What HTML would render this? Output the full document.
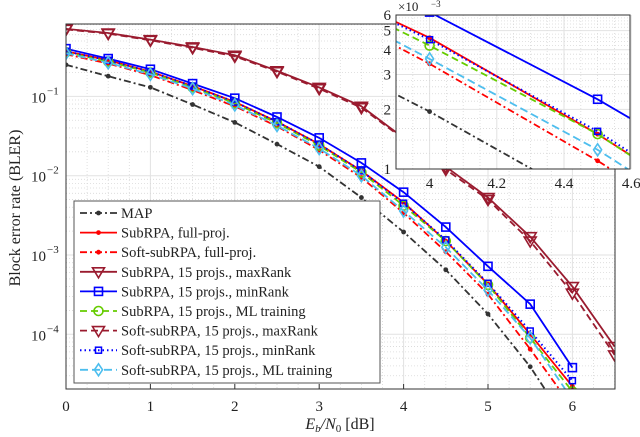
<!DOCTYPE html>
<html><head><meta charset="utf-8"><style>
html,body{margin:0;padding:0;background:#fff;width:640px;height:437px;overflow:hidden}
svg{display:block;overflow:hidden}
svg text{font-family:"Liberation Serif",serif;fill:#222}
</style></head><body>
<svg id="chart" width="640" height="437" viewBox="0 0 640 437" xmlns="http://www.w3.org/2000/svg"></svg>
<script>
const snr = [0,0.5,1,1.5,2,2.5,3,3.5,4,4.5,5,5.5,6,6.5];
const xTicks = [0,1,2,3,4,5,6];
const yTickExps = [-1,-2,-3,-4];
const insetXTicks = [4,4.2,4.4,4.6];
const insetYTicks = [1,2,3,4,5,6];
const mapVals = [0.25,0.18,0.13,0.079,0.047,0.025,0.013,0.0053,0.00195,0.00065,0.00018,0.000039,0.000006];
const subFullVals = [0.37,0.285,0.205,0.135,0.085,0.048,0.025,0.0115,0.0046,0.0015,0.00043,0.0001,0.000022];
const softFullVals = [0.34,0.26,0.185,0.12,0.075,0.042,0.021,0.0095,0.0034,0.0011,0.00032,0.000065,0.000012];
const maxRankVals = [0.71,0.63,0.52,0.42,0.33,0.21,0.13,0.075,0.03,0.013,0.0053,0.0017,0.0004,0.00007];
const minRankVals = [0.4,0.3,0.22,0.145,0.095,0.055,0.03,0.0145,0.0062,0.00225,0.00072,0.00024,0.000038];
const mlVals = [0.36,0.275,0.2,0.13,0.082,0.046,0.024,0.011,0.0042,0.0015,0.00042,0.00009,0.000019];
const softMaxVals = [0.7,0.62,0.51,0.41,0.32,0.205,0.125,0.072,0.029,0.012,0.005,0.0015,0.00033,0.000055];
const softMinVals = [0.37,0.285,0.205,0.135,0.085,0.048,0.025,0.0115,0.0045,0.00155,0.00044,0.00011,0.000026];
const softMlVals = [0.35,0.265,0.19,0.125,0.078,0.043,0.022,0.01,0.0036,0.00125,0.00036,0.00009,0.000015];
const labels = ["MAP","SubRPA, full-proj.","Soft-subRPA, full-proj.","SubRPA, 15 projs., maxRank","SubRPA, 15 projs., minRank","SubRPA, 15 projs., ML training","Soft-subRPA, 15 projs., maxRank","Soft-subRPA, 15 projs., minRank","Soft-subRPA, 15 projs., ML training"];

const NS="http://www.w3.org/2000/svg";
const svg=document.getElementById('chart');
function el(tag,attrs,parent){const e=document.createElementNS(NS,tag);for(const k in attrs)e.setAttribute(k,attrs[k]);(parent||svg).appendChild(e);return e;}

const M={l:66,r:615,t:24,b:389};
const xS=v=>M.l+v*84.4;
const yS=v=>255-(Math.log10(v)+3)*79.3;
const I={l:396,r:630,t:15,b:169};
const ixS=v=>I.l+(v-3.9)*336;
const iyS=v=>I.b-Math.log10(v*1000)*198;

const series=[
 {name:'map',vals:mapVals,color:'#333',dash:'7,3,2,3',mk:'dot',w:1.8},
 {name:'subrpa-full',vals:subFullVals,color:'#ff0000',dash:'',mk:'dot',w:1.8},
 {name:'soft-subrpa-full',vals:softFullVals,color:'#ff0000',dash:'7,3,2,3',mk:'dot',w:1.8},
 {name:'subrpa-maxrank',vals:maxRankVals,color:'#9a1b2f',dash:'',mk:'tri',w:1.8},
 {name:'subrpa-minrank',vals:minRankVals,color:'#0000ff',dash:'',mk:'sq',w:1.8},
 {name:'subrpa-ml',vals:mlVals,color:'#66cc00',dash:'7,4',mk:'circ',w:1.8},
 {name:'soft-subrpa-maxrank',vals:softMaxVals,color:'#9a1b2f',dash:'7,4',mk:'tri',w:1.8},
 {name:'soft-subrpa-minrank',vals:softMinVals,color:'#0000ff',dash:'1.5,3',mk:'sqs',w:2},
 {name:'soft-subrpa-ml',vals:softMlVals,color:'#4dbeee',dash:'8,4',mk:'dia',w:1.8}
];

function marker(g,type,x,y,c){
  let m;
  if(type==='dot') m=el('circle',{cx:x,cy:y,r:2.4,fill:c},g);
  else if(type==='tri') m=el('path',{d:`M${x-6},${y-4}L${x+6},${y-4}L${x},${y+6}Z`,fill:'none',stroke:c,'stroke-width':1.6},g);
  else if(type==='sq') m=el('rect',{x:x-4,y:y-4,width:8,height:8,fill:'none',stroke:c,'stroke-width':1.6},g);
  else if(type==='sqs') m=el('rect',{x:x-3,y:y-3,width:6,height:6,fill:'none',stroke:c,'stroke-width':1.5},g);
  else if(type==='circ') m=el('circle',{cx:x,cy:y,r:4.5,fill:'none',stroke:c,'stroke-width':1.6},g);
  else m=el('path',{d:`M${x},${y-6}L${x+4},${y}L${x},${y+6}L${x-4},${y}Z`,fill:'none',stroke:c,'stroke-width':1.6},g);
  
  
}

const defs=el('defs',{});
const cp=el('clipPath',{id:'mclip'},defs);el('rect',{x:M.l,y:M.t,width:M.r-M.l,height:M.b-M.t},cp);
const cp2=el('clipPath',{id:'iclip'},defs);el('rect',{x:I.l,y:I.t,width:I.r-I.l,height:I.b-I.t},cp2);

const grid=el('g',{});


for(let x=0;x<=6.5;x+=0.25){const px=xS(x);const major=Math.abs(x-Math.round(x))<1e-6;
 el('line',{x1:px,x2:px,y1:M.t,y2:M.b,stroke:major?'#e2e2e2':'#d8d8d8','stroke-width':major?1:0.8,'stroke-dasharray':major?'':'1,2'},grid);}
for(let e=-5;e<=0;e++)for(let k=1;k<10;k++){const v=k*Math.pow(10,e);const py=yS(v);if(py<M.t||py>M.b)continue;
 el('line',{x1:M.l,x2:M.r,y1:py,y2:py,stroke:k===1?'#e2e2e2':'#d8d8d8','stroke-width':k===1?1:0.8,'stroke-dasharray':k===1?'':'1,2'},grid);}

function drawSeries(parent,xf,yf,clip,isInset){
 const g=el('g',{'clip-path':`url(#${clip})`},parent);
 series.forEach(s=>{
  const sg=el('g',{},g);
  
  
  const d=s.vals.map((v,i)=>(i?'L':'M')+xf(snr[i]).toFixed(1)+','+yf(v).toFixed(1)).join('');
  el('path',{d,fill:'none',stroke:s.color,'stroke-width':s.w,'stroke-dasharray':s.dash},sg);
  s.vals.forEach((v,i)=>marker(sg,s.mk,xf(snr[i]),yf(v),s.color));
 });
}
drawSeries(svg,xS,yS,'mclip',false);

const ax=el('g',{});


el('rect',{x:M.l,y:M.t,width:M.r-M.l,height:M.b-M.t,fill:'none',stroke:'#333','stroke-width':1},ax);
xTicks.forEach(t=>{const px=xS(t);el('line',{x1:px,x2:px,y1:M.b,y2:M.b-5,stroke:'#333'},ax);
 const tx=el('text',{x:px,y:411,'font-size':15,'text-anchor':'middle'},ax);tx.textContent=t;
 
 });
yTickExps.forEach(e=>{const py=yS(Math.pow(10,e));
 const tx=el('text',{x:46,y:py+6,'font-size':15,'text-anchor':'end'},ax);tx.textContent='10';
 
 
 const sp=el('text',{x:47,y:py-2,'font-size':11},ax);sp.textContent='\u2212'+(-e);});
const xl=el('text',{x:340,y:429,'font-size':16,'text-anchor':'middle'});


xl.innerHTML='<tspan font-style="italic">E</tspan><tspan font-size="11" dy="3" font-style="italic">b</tspan><tspan dy="-3" font-style="italic">/N</tspan><tspan font-size="11" dy="3">0</tspan><tspan dy="-3"> [dB]</tspan>';
const yl=el('text',{x:0,y:0,'font-size':16,'text-anchor':'middle',transform:'translate(20,208) rotate(-90)'});
yl.textContent='Block error rate (BLER)';



const lg=el('g',{});


el('rect',{x:74,y:201,width:306,height:182,fill:'#fff',stroke:'#555','stroke-width':1},lg);
series.forEach((s,i)=>{const y=213+i*19.6;
 const eg=el('g',{},lg);
 
 
 el('line',{x1:80,x2:117,y1:y,y2:y,stroke:s.color,'stroke-width':s.w,'stroke-dasharray':s.dash},eg);
 marker(eg,s.mk,98.5,y,s.color);
 const t=el('text',{x:121,y:y+5,'font-size':14.5},eg);t.textContent=labels[i];});

const ig=el('g',{});


el('rect',{x:I.l,y:I.t,width:I.r-I.l,height:I.b-I.t,fill:'#fff'},ig);
for(let x=3.9;x<=4.61;x+=0.05){const px=ixS(x);const major=Math.abs(x*5-Math.round(x*5))<1e-6;
 el('line',{x1:px,x2:px,y1:I.t,y2:I.b,stroke:major?'#e2e2e2':'#d8d8d8','stroke-width':major?1:0.8,'stroke-dasharray':major?'':'1,2'},ig);}
for(let v=1;v<=6;v+=0.2){const py=iyS(v/1000);const major=Math.abs(v-Math.round(v))<1e-6;
 el('line',{x1:I.l,x2:I.r,y1:py,y2:py,stroke:major?'#e2e2e2':'#d8d8d8','stroke-width':major?1:0.8,'stroke-dasharray':major?'':'1,2'},ig);}
drawSeries(ig,ixS,iyS,'iclip',true);
el('rect',{x:I.l,y:I.t,width:I.r-I.l,height:I.b-I.t,fill:'none',stroke:'#333','stroke-width':1},ig);
insetXTicks.forEach(t=>{const tx=el('text',{x:ixS(t),y:188,'font-size':15,'text-anchor':'middle'},ig);tx.textContent=t;
 
 });
insetYTicks.forEach(t=>{const tx=el('text',{x:391,y:iyS(t/1000)+5,'font-size':15,'text-anchor':'end'},ig);tx.textContent=t;
 
 });
const mult=el('text',{x:398,y:11,'font-size':13},ig);mult.textContent='\u00d710';
const mexp=el('text',{x:431,y:7,'font-size':9},ig);mexp.textContent='\u22123';
</script>
</body></html>
